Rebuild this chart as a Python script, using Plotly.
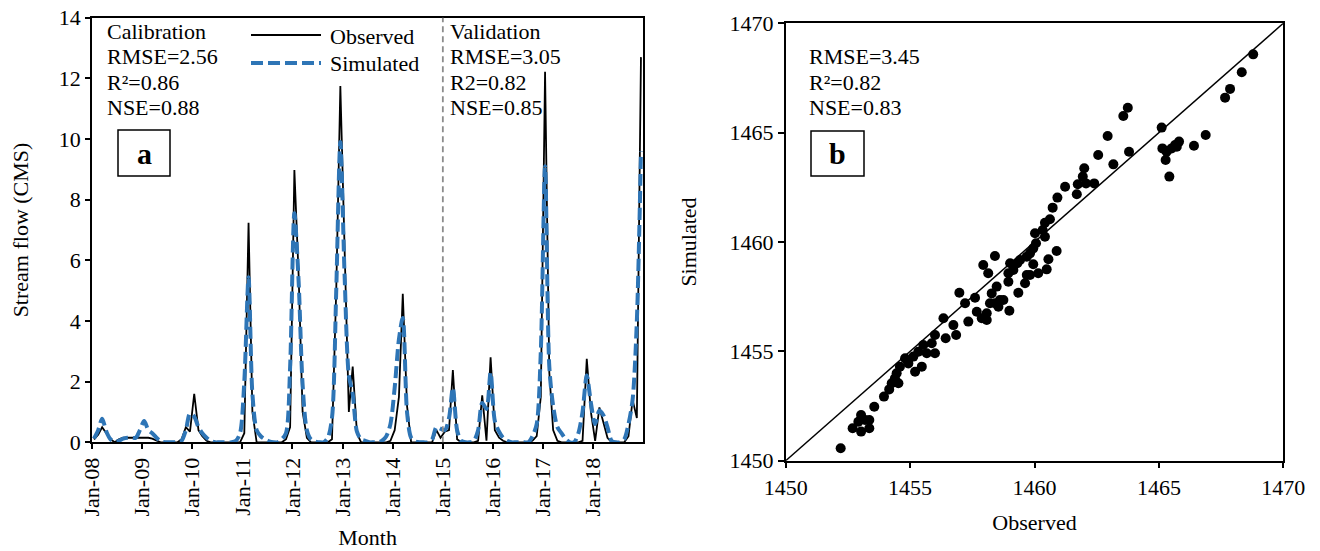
import plotly.graph_objects as go

# ---------------- data ----------------
# Monthly stream flow, Jan-2008 .. Dec-2018 (132 months)
observed_flow = [
    0.10, 0.25, 0.50, 0.30, 0.10, 0.00, 0.10, 0.15, 0.15, 0.15, 0.15, 0.15,   # 2008
    0.15, 0.15, 0.12, 0.05, 0.00, 0.00, 0.00, 0.00, 0.00, 0.10, 0.50, 0.35,   # 2009
    1.60, 0.40, 0.20, 0.05, 0.00, 0.00, 0.00, 0.00, 0.00, 0.00, 0.00, 0.00,   # 2010
    0.30, 7.24, 1.00, 0.00, 0.00, 0.00, 0.00, 0.00, 0.00, 0.00, 0.10, 0.50,   # 2011
    8.98, 5.50, 1.00, 0.15, 0.00, 0.00, 0.00, 0.00, 0.00, 0.10, 5.00, 11.75,  # 2012
    6.00, 1.00, 2.50, 0.30, 0.00, 0.00, 0.00, 0.00, 0.00, 0.00, 0.00, 0.05,   # 2013
    0.40, 1.50, 4.90, 1.20, 0.00, 0.00, 0.00, 0.00, 0.00, 0.00, 0.40, 0.15,   # 2014
    0.35, 0.40, 2.38, 0.10, 0.00, 0.00, 0.00, 0.00, 0.05, 1.55, 0.05, 2.80,   # 2015
    0.40, 0.15, 0.05, 0.00, 0.00, 0.00, 0.00, 0.00, 0.00, 0.05, 0.20, 1.50,   # 2016
    12.22, 2.30, 0.40, 0.05, 0.00, 0.00, 0.00, 0.00, 0.00, 0.05, 2.75, 1.00,  # 2017
    0.05, 1.15, 0.70, 0.15, 0.00, 0.00, 0.00, 0.00, 0.20, 1.40, 0.80, 12.70,  # 2018
]
simulated_flow = [
    0.12, 0.40, 0.78, 0.35, 0.10, 0.02, 0.05, 0.12, 0.15, 0.15, 0.15, 0.40,   # 2008
    0.70, 0.40, 0.30, 0.15, 0.03, 0.00, 0.00, 0.00, 0.00, 0.05, 0.40, 0.95,   # 2009
    0.85, 0.50, 0.30, 0.15, 0.05, 0.00, 0.00, 0.00, 0.00, 0.00, 0.05, 0.30,   # 2010
    2.00, 5.44, 1.60, 0.40, 0.20, 0.10, 0.03, 0.00, 0.00, 0.10, 0.30, 2.50,   # 2011
    7.55, 5.30, 1.90, 0.40, 0.10, 0.03, 0.00, 0.00, 0.15, 0.80, 5.00, 9.90,   # 2012
    5.50, 2.20, 1.60, 0.35, 0.10, 0.05, 0.00, 0.00, 0.00, 0.05, 0.20, 0.60,   # 2013
    1.80, 3.40, 4.10, 1.00, 0.15, 0.03, 0.00, 0.00, 0.00, 0.10, 0.50, 0.45,   # 2014
    0.40, 0.80, 1.80, 0.40, 0.05, 0.00, 0.00, 0.05, 0.40, 1.30, 1.10, 2.30,   # 2015
    0.70, 0.35, 0.15, 0.05, 0.00, 0.00, 0.00, 0.00, 0.00, 0.20, 0.60, 3.00,   # 2016
    9.10, 2.50, 1.20, 0.50, 0.30, 0.10, 0.00, 0.00, 0.30, 1.00, 2.20, 1.30,   # 2017
    0.60, 1.05, 0.90, 0.50, 0.05, 0.00, 0.00, 0.10, 0.60, 1.40, 4.00, 9.60,   # 2018
]
month_dates = [f"{2008 + i // 12}-{i % 12 + 1:02d}-15" for i in range(132)]
year_tick_dates = [f"{y}-01-01" for y in range(2008, 2019)]
year_tick_labels = [f"Jan-{y % 100:02d}" for y in range(2008, 2019)]
validation_start = "2015-01-01"

# Scatter: observed vs simulated
scatter_obs = [
    1452.21, 1452.69, 1453.03, 1453.03, 1453.19, 1453.36, 1453.36, 1452.92, 1453.56, 1453.95,
    1454.16, 1454.26, 1454.39, 1454.53, 1454.46, 1454.59, 1454.80, 1454.93, 1455.20, 1455.47,
    1455.13, 1455.33, 1455.53, 1455.67, 1456.00, 1455.87, 1456.00, 1456.34, 1456.43, 1456.74,
    1456.85, 1456.98, 1457.21, 1457.34, 1457.61, 1457.68, 1457.94, 1458.14, 1458.41, 1457.88,
    1458.08, 1458.08, 1458.21, 1458.28, 1458.48, 1458.55, 1458.61, 1458.41, 1458.75, 1458.99,
    1458.95, 1459.02, 1459.15, 1459.31, 1459.35, 1459.62, 1459.69, 1459.69, 1459.82, 1459.82,
    1459.42, 1458.95, 1468.79, 1468.33, 1467.86, 1467.66, 1463.75, 1463.57, 1462.94, 1463.80,
    1462.56, 1463.17, 1465.11, 1465.14, 1465.31, 1465.27, 1465.42, 1465.51, 1465.65, 1465.81,
    1465.72, 1466.41, 1466.88, 1462.00, 1461.94, 1461.74, 1462.07, 1462.40, 1461.70, 1461.23,
    1460.92, 1460.73, 1460.62, 1460.42, 1460.33, 1460.02, 1460.42, 1460.06, 1459.95, 1460.89,
    1460.56, 1459.95, 1460.49, 1460.15,
]
scatter_sim = [
    1450.57, 1451.48, 1451.33, 1452.09, 1451.86, 1451.86, 1451.48, 1451.78, 1452.47, 1452.93,
    1453.26, 1453.54, 1453.77, 1453.54, 1454.00, 1454.30, 1454.68, 1454.45, 1454.07, 1454.30,
    1454.76, 1454.98, 1455.29, 1454.91, 1454.91, 1455.37, 1455.75, 1456.51, 1455.60, 1456.20,
    1455.75, 1457.68, 1457.20, 1456.36, 1457.45, 1456.81, 1458.95, 1458.57, 1459.36, 1456.51,
    1456.43, 1456.74, 1457.20, 1457.65, 1457.96, 1457.04, 1457.35, 1457.20, 1457.35, 1456.86,
    1458.18, 1459.03, 1458.72, 1459.03, 1457.68, 1458.11, 1458.49, 1459.33, 1459.48, 1458.49,
    1459.18, 1458.57, 1468.58, 1467.76, 1467.00, 1466.60, 1466.14, 1465.76, 1464.85, 1464.13,
    1463.98, 1463.55, 1465.23, 1464.28, 1464.13, 1463.75, 1462.99, 1464.28, 1464.43, 1464.59,
    1464.36, 1464.40, 1464.89, 1463.37, 1462.99, 1462.64, 1462.68, 1462.68, 1462.18, 1462.53,
    1462.03, 1461.57, 1461.04, 1460.88, 1460.55, 1460.40, 1460.24, 1459.94, 1459.71, 1459.59,
    1459.21, 1458.98, 1458.75, 1458.57,
]
one_to_one = [1450, 1470]
scatter_ticks = [1450, 1455, 1460, 1465, 1470]

calib_stats = ["Calibration", "RMSE=2.56", "R\u00b2=0.86", "NSE=0.88"]
valid_stats = ["Validation", "RMSE=3.05", "R2=0.82", "NSE=0.85"]
scatter_stats = ["RMSE=3.45", "R\u00b2=0.82", "NSE=0.83"]

# ---------------- figure ----------------
W, H = 1320, 551
FONT = "Liberation Serif, Times New Roman, serif"
BLUE = "#2E75B6"


def px(x):
    return x / W


def py(y):
    return 1 - y / H


fig = go.Figure()

fig.add_trace(go.Scatter(
    x=month_dates, y=observed_flow, mode="lines", name="Observed",
    line=dict(color="black", width=1.8), xaxis="x", yaxis="y", showlegend=False))
fig.add_trace(go.Scatter(
    x=month_dates, y=simulated_flow, mode="lines", name="Simulated",
    line=dict(color=BLUE, width=4, dash="12px,5px", shape="spline", smoothing=0.8),
    xaxis="x", yaxis="y", showlegend=False))

fig.add_trace(go.Scatter(
    x=one_to_one, y=one_to_one, mode="lines", line=dict(color="black", width=1.5),
    xaxis="x2", yaxis="y2", showlegend=False, hoverinfo="skip"))
fig.add_trace(go.Scatter(
    x=scatter_obs, y=scatter_sim, mode="markers",
    marker=dict(color="black", size=10), xaxis="x2", yaxis="y2", showlegend=False))

axis_common = dict(showgrid=False, zeroline=False, showline=True, linecolor="black",
                   linewidth=1.5, mirror=True, ticks="outside", tickcolor="black",
                   tickwidth=1.5, automargin=False,
                   tickfont=dict(family=FONT, size=22, color="black"))

fig.update_layout(
    width=W, height=H, margin=dict(l=0, r=0, t=0, b=0),
    paper_bgcolor="white", plot_bgcolor="white",
    font=dict(family=FONT, size=22, color="black"),
    xaxis=dict(domain=[px(92), px(643.3)], type="date",
               range=["2008-01-01", "2019-01-01"],
               tickvals=year_tick_dates, ticktext=year_tick_labels,
               tickangle=-90, ticklen=5,
               title=dict(text="Month", font=dict(family=FONT, size=22), standoff=14),
               anchor="y", **axis_common),
    yaxis=dict(domain=[py(442.3), py(17.7)], range=[0, 14], dtick=2, ticklen=5,
               title=dict(text="Stream flow (CMS)", font=dict(family=FONT, size=22), standoff=24),
               anchor="x", **axis_common),
    xaxis2=dict(domain=[px(785.7), px(1283.3)], range=[1450, 1470],
                tickvals=scatter_ticks, ticklen=6,
                title=dict(text="Observed", font=dict(family=FONT, size=22), standoff=16),
                anchor="y2", **axis_common),
    yaxis2=dict(domain=[py(460.7), py(23.3)], range=[1450, 1470],
                tickvals=scatter_ticks, ticklen=6,
                title=dict(text="Simulated", font=dict(family=FONT, size=22), standoff=27),
                anchor="x2", **axis_common),
)

shapes = []
# calibration / validation divider
shapes.append(dict(type="line", xref="x", yref="y domain", x0=validation_start, x1=validation_start,
                   y0=0, y1=1, line=dict(color="#8c8c8c", width=1.8, dash="6px,4px")))
# legend samples
shapes.append(dict(type="line", xref="paper", yref="paper", x0=px(251), x1=px(321),
                   y0=py(35), y1=py(35), line=dict(color="black", width=1.8)))
shapes.append(dict(type="line", xref="paper", yref="paper", x0=px(251), x1=px(321),
                   y0=py(63), y1=py(63), line=dict(color=BLUE, width=4, dash="12px,5px")))
# panel label boxes
shapes.append(dict(type="rect", xref="paper", yref="paper", x0=px(118), x1=px(170),
                   y0=py(176), y1=py(130), line=dict(color="black", width=1.5)))
shapes.append(dict(type="rect", xref="paper", yref="paper", x0=px(811), x1=px(864),
                   y0=py(176), y1=py(131), line=dict(color="black", width=1.5)))
fig.update_layout(shapes=shapes)

ann = []


def text(x, y, s, size=22, bold=False, anchor="left"):
    ann.append(dict(xref="paper", yref="paper", x=px(x), y=py(y), text=(f"<b>{s}</b>" if bold else s),
                    showarrow=False, xanchor=anchor, yanchor="middle",
                    font=dict(family=FONT, size=size, color="black")))


for k, s in enumerate(calib_stats):
    text(105, 32 + 25 * k, s)
for k, s in enumerate(valid_stats):
    text(448, 32 + 25 * k, s)
for k, s in enumerate(scatter_stats):
    text(807, 57 + 25 * k, s)
text(328, 36, "Observed")
text(328, 64, "Simulated")
text(144, 153, "a", size=30, bold=True, anchor="center")
text(837.5, 153, "b", size=30, bold=True, anchor="center")
fig.update_layout(annotations=ann)

fig.write_html("out.html", config={"displayModeBar": False},
               post_script="document.body.style.margin='0';")
